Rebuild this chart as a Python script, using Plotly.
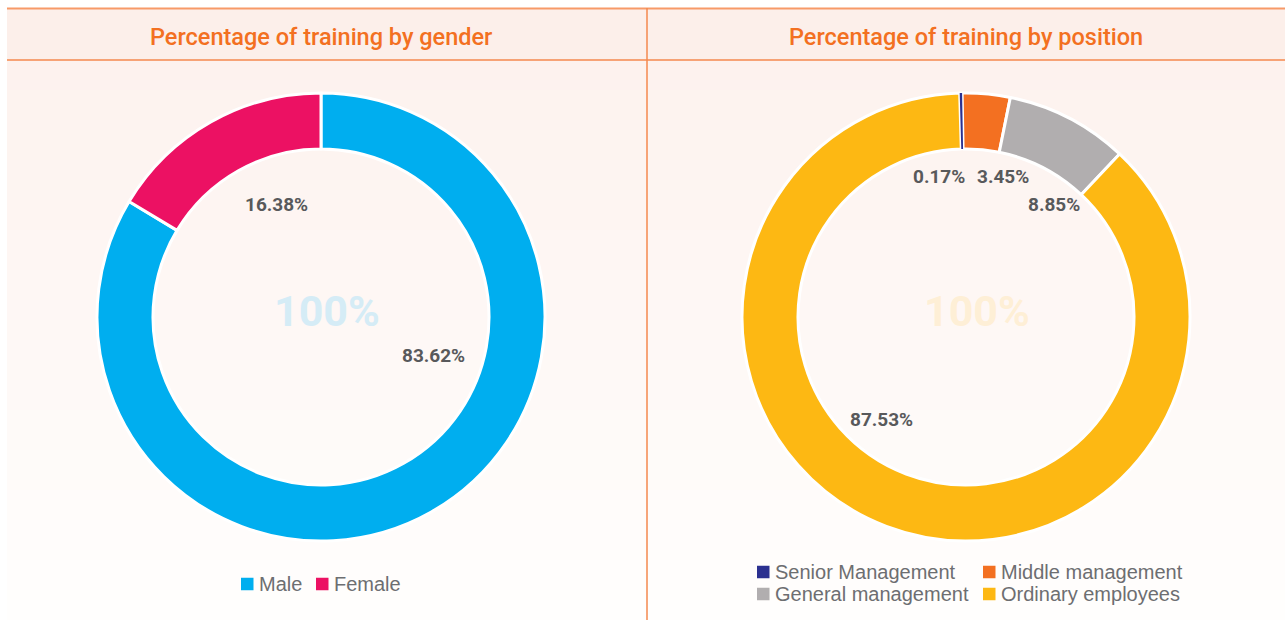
import plotly.graph_objects as go

W, H = 1285, 620

# ---- data ----
gender_labels = ["Male", "Female"]
gender_values = [83.62, 16.38]
gender_colors = ["#00AEEF", "#EC1163"]

position_labels = ["Senior Management", "Middle management", "General management", "Ordinary employees"]
position_values = [0.17, 3.45, 8.85, 87.53]
position_colors = ["#2B3090", "#F37021", "#B1AEAF", "#FDB813"]

titles = ["Percentage of training by gender", "Percentage of training by position"]
center_text = "100%"


def px(x):
    return x / W


def py(y):
    return 1 - y / H


fig = go.Figure()

# left donut
fig.add_trace(go.Pie(
    labels=gender_labels, values=gender_values, sort=False, direction="clockwise",
    rotation=0, hole=0.75, textinfo="none", showlegend=False,
    marker=dict(colors=gender_colors, line=dict(color="white", width=3)),
    domain=dict(x=[px(97), px(545)], y=[py(541), py(93)]),
    hoverinfo="label+percent",
))

# right donut: drawn with the tiny slice last so its fill stays visible
order = [1, 2, 3, 0]
fig.add_trace(go.Pie(
    labels=[position_labels[i] for i in order],
    values=[position_values[i] for i in order],
    sort=False, direction="clockwise", rotation=-1, hole=0.75,
    textinfo="none", showlegend=False,
    marker=dict(colors=[position_colors[i] for i in order],
                line=dict(color="white", width=[3, 3, 3, 0])),
    domain=dict(x=[px(742), px(1190)], y=[py(541), py(93)]),
    hoverinfo="label+percent",
))

shapes = []
# background gradient panel
n = 56
top, bot = 60, 620
c0 = (253, 242, 238)
c1 = (255, 254, 253)
for k in range(n):
    y0 = top + (bot - top) * k / n
    y1 = top + (bot - top) * (k + 1) / n + 0.5
    t = k / (n - 1)
    col = tuple(round(c0[j] + (c1[j] - c0[j]) * t) for j in range(3))
    shapes.append(dict(type="rect", xref="paper", yref="paper", layer="below",
                       x0=px(7), x1=1, y0=py(y1), y1=py(y0),
                       fillcolor="rgb(%d,%d,%d)" % col, line=dict(width=0)))
# header band
shapes.append(dict(type="rect", xref="paper", yref="paper", layer="below",
                   x0=px(7), x1=1, y0=py(60), y1=py(8),
                   fillcolor="#FCEFEA", line=dict(width=0)))
# frame lines
line_col = "#F5884E"
shapes.append(dict(type="line", xref="paper", yref="paper", layer="below",
                   x0=px(7), x1=1, y0=py(8.5), y1=py(8.5), line=dict(color="#F79A68", width=2)))
shapes.append(dict(type="line", xref="paper", yref="paper", layer="below",
                   x0=px(7), x1=1, y0=py(60), y1=py(60), line=dict(color=line_col, width=1.5)))
shapes.append(dict(type="line", xref="paper", yref="paper", layer="below",
                   x0=px(647), x1=px(647), y0=0, y1=py(8), line=dict(color=line_col, width=1.5)))

annotations = []
title_font = dict(family="Roboto", size=23.5, color="#F37021", weight=500)
annotations.append(dict(text=titles[0], x=px(321), y=py(37), xref="paper", yref="paper",
                        showarrow=False, xanchor="center", yanchor="middle", font=title_font))
annotations.append(dict(text=titles[1], x=px(966), y=py(37), xref="paper", yref="paper",
                        showarrow=False, xanchor="center", yanchor="middle", font=title_font))

# center text
annotations.append(dict(text=center_text, x=px(327), y=py(311), xref="paper", yref="paper",
                        showarrow=False, xanchor="center", yanchor="middle",
                        font=dict(family="Roboto", size=43, color="#D5ECF6", weight=700)))
annotations.append(dict(text=center_text, x=px(977), y=py(311), xref="paper", yref="paper",
                        showarrow=False, xanchor="center", yanchor="middle",
                        font=dict(family="Roboto", size=43, color="#FEEFD6", weight=700)))

# value labels
label_font = dict(family="Roboto", size=19, color="#58595B", weight=700)
gender_label_pos = [(433, 355), (276, 204)]
position_label_pos = [(939, 176), (1003, 176), (1054, 205), (881, 419)]
for v, (x, y) in zip(gender_values, gender_label_pos):
    annotations.append(dict(text=f"{v:.2f}%", x=px(x), y=py(y), xref="paper", yref="paper",
                            showarrow=False, xanchor="center", yanchor="middle", font=label_font))
for v, (x, y) in zip(position_values, position_label_pos):
    annotations.append(dict(text=f"{v:.2f}%", x=px(x), y=py(y), xref="paper", yref="paper",
                            showarrow=False, xanchor="center", yanchor="middle", font=label_font))

# legends (drawn manually)
leg_font = dict(family="Liberation Sans", size=20, color="#6D6E71")
sq = 12.5
gender_leg_pos = [(241, 584), (316, 584)]
position_leg_pos = [(757, 572), (983, 572), (757, 594), (983, 594)]
for lab, colr, (x, y) in list(zip(gender_labels, gender_colors, gender_leg_pos)) + \
        list(zip(position_labels, position_colors, position_leg_pos)):
    shapes.append(dict(type="rect", xref="paper", yref="paper",
                       x0=px(x), x1=px(x + sq), y0=py(y + sq / 2), y1=py(y - sq / 2),
                       fillcolor=colr, line=dict(width=0)))
    annotations.append(dict(text=lab, x=px(x + sq + 3), y=py(y), xref="paper", yref="paper",
                            showarrow=False, xanchor="left", yanchor="middle", font=leg_font))

fig.update_layout(
    width=W, height=H,
    margin=dict(l=0, r=0, t=0, b=0),
    paper_bgcolor="white", plot_bgcolor="white",
    shapes=shapes, annotations=annotations,
    showlegend=False,
)

fig.write_html("out.html")
